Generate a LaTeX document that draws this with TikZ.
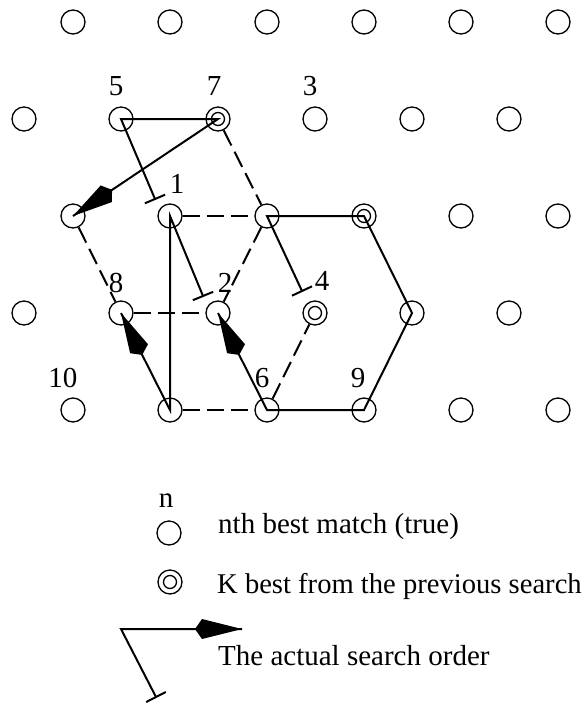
\documentclass[tikz,border=0pt]{standalone}
\usepackage{fontspec}
\setmainfont{Liberation Serif}
\usetikzlibrary{calc}

% filled kite-shaped head: #1 = tip, #2 = point the path comes from
\newcommand\kitehead[2]{%
  \fill ($(#1)$) -- ($(#1)!40pt!(#2)!10pt!90:(#2)$) -- ($(#1)!47pt!(#2)$)
        -- ($(#1)!40pt!(#2)!10pt!-90:(#2)$) -- cycle;}
% bar across the start of a search path: #1 = start, #2 = next point
\newcommand\teebar[2]{%
  \draw[trail] ($(#1)!11pt!90:(#2)$) -- ($(#1)!11pt!-90:(#2)$);}

\begin{document}
\begin{tikzpicture}[x=1pt,y=-1pt,
  site/.style={circle,draw,line width=1.3pt,minimum size=24pt,inner sep=0pt},
  lab/.style={anchor=base,inner sep=0pt,font=\fontsize{29}{34}\selectfont},
  txt/.style={anchor=base west,inner sep=0pt,font=\fontsize{29}{34}\selectfont},
  trail/.style={line width=2pt,line join=miter},
  prevpath/.style={line width=2pt,dash pattern=on 17pt off 7pt}]
\useasboundingbox (0,0) rectangle (588,705);

% lattice of candidate positions
\foreach \r in {0,...,4}
  \foreach \k in {0,...,5}{
    \pgfmathsetmacro\xx{73+97*\k-49*mod(\r,2)}
    \pgfmathsetmacro\yy{22+97*\r}
    \node[site] (g-\r-\k) at (\xx,\yy) {};
  }
% K best from the previous search
\foreach \n in {g-1-2,g-2-3,g-3-3}
  \draw[line width=1.3pt] (\n.center) circle (6.5pt);

% rank labels
\node[lab] at (116,95) {5};
\node[lab] at (214,95) {7};
\node[lab] at (310,95) {3};
\node[lab] at (177,193) {1};
\node[lab] at (116,292) {8};
\node[lab] at (225,292) {2};
\node[lab] at (322,290) {4};
\node[lab] at (63,387) {10};
\node[lab] at (262,387) {6};
\node[lab] at (358,387) {9};

% previous search neighbourhood
\draw[prevpath] (g-1-2) -- (g-2-2);
\draw[prevpath] (g-2-1) -- (g-2-2);
\draw[prevpath] (g-2-2) -- (g-3-2);
\draw[prevpath] (g-2-0) -- (g-3-1);
\draw[prevpath] (g-3-1) -- (g-3-2);
\draw[prevpath] (g-4-1) -- (g-4-2);
\draw[prevpath] (g-4-2) -- (g-3-3);

% search paths
\coordinate (t1) at (155,199);
\coordinate (t2) at (203,296);
\coordinate (t3) at (302,291);

\draw[trail] (t1) -- (g-1-1.center) -- (g-1-2.center) -- (g-2-0.center);
\teebar{t1}{g-1-1.center}
\kitehead{g-2-0.center}{g-1-2.center}

\draw[trail] (t2) -- (g-2-1.center) -- (g-4-1.center) -- (g-3-1.center);
\teebar{t2}{g-2-1.center}
\kitehead{g-3-1.center}{g-4-1.center}

\draw[trail] (t3) -- (g-2-2.center) -- (g-2-3.center) -- (g-3-4.center)
  -- (g-4-3.center) -- (g-4-2.center) -- (g-3-2.center);
\teebar{t3}{g-2-2.center}
\kitehead{g-3-2.center}{g-4-2.center}

% legend
\node[lab] at (166,507) {n};
\node[site] (l1) at (169,533) {};
\node[txt] at (218,533) {nth best match (true)};
\node[site] (l2) at (170,582) {};
\draw[line width=1.3pt] (l2.center) circle (6.5pt);
\node[txt,font=\fontsize{28.6}{34}\selectfont] at (217,593) {K best from the previous search};

\coordinate (t4) at (156,697);
\coordinate (lc) at (121,629);
\coordinate (le) at (242,629);
\draw[trail] (t4) -- (lc) -- (le);
\teebar{t4}{lc}
\kitehead{le}{lc}
\node[txt] at (218,665) {The actual search order};
\end{tikzpicture}
\end{document}
